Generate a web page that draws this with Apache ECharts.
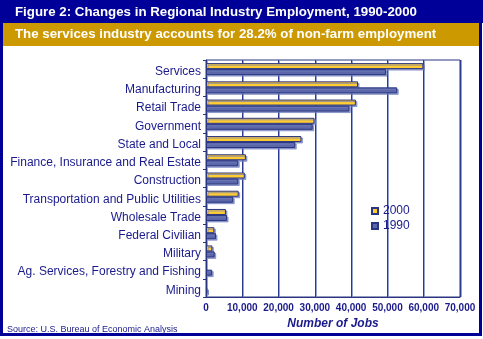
<!DOCTYPE html>
<html>
<head>
<meta charset="utf-8">
<script src="https://cdn.jsdelivr.net/npm/echarts@6/dist/echarts.min.js"></script>
<style>
html,body{margin:0;padding:0;background:#fff;}
#c{width:483px;height:339px;}
</style>
</head>
<body>
<div id="c"></div>
<script>
var categories = ["Services","Manufacturing","Retail Trade","Government","State and Local","Finance, Insurance and Real Estate","Construction","Transportation and Public Utilities","Wholesale Trade","Federal Civilian","Military","Ag. Services, Forestry and Fishing","Mining"];
var jobs2000 = [59900,41900,41300,29900,26300,11000,10700,9000,5500,2300,1750,null,null];
var jobs1990 = [49600,52700,39500,29400,24600,8900,8900,7500,5800,2750,2400,1700,400];
var xTicks = {min:0,max:70000,interval:10000};
var titleText = "Figure 2: Changes in Regional Industry Employment, 1990-2000";
var subtitleText = "The services industry accounts for 28.2% of non-farm employment";
var sourceText = "Source: U.S. Bureau of Economic Analysis";

var navy = '#1a1a8c';
var chart = echarts.init(document.getElementById('c'), null, {renderer:'canvas'});
chart.setOption({
  animation:false,
  backgroundColor:'#fff',
  graphic:[
    {type:'rect', shape:{x:0,y:0,width:483,height:23}, style:{fill:'#000099'}},
    {type:'rect', shape:{x:3,y:23,width:476,height:23}, style:{fill:'#cc9900'}},
    {type:'rect', shape:{x:0,y:0,width:3,height:336}, style:{fill:'#000099'}},
    {type:'rect', shape:{x:479,y:0,width:3,height:336}, style:{fill:'#000099'}},
    {type:'rect', shape:{x:0,y:333,width:482,height:3}, style:{fill:'#000099'}}
  ],
  title:[
    {text:titleText, left:15, top:6, padding:0, textStyle:{color:'#fff', fontSize:13.3, fontWeight:'bold', fontFamily:'Liberation Sans'}},
    {text:subtitleText, left:15, top:28, padding:0, textStyle:{color:'#fff', fontSize:13.3, fontWeight:'bold', fontFamily:'Liberation Sans'}},
    {text:sourceText, left:7, top:325, padding:0, textStyle:{color:navy, fontSize:9, fontWeight:'normal', fontFamily:'Liberation Sans'}}
  ],
  legend:{
    orient:'vertical', left:371, top:205, padding:0, itemWidth:6, itemHeight:6, itemGap:3,
    textStyle:{color:navy, fontSize:12, fontFamily:'Liberation Sans'},
    icon:'rect',
    data:['2000','1990']
  },
  grid:{left:206, right:23, top:60, bottom:42, show:true, borderColor:'#2a3580', borderWidth:1, backgroundColor:'transparent'},
  xAxis:{
    type:'value', min:xTicks.min, max:xTicks.max, interval:xTicks.interval,
    name:'Number of Jobs', nameLocation:'middle', nameGap:19,
    nameTextStyle:{color:navy, fontSize:12, fontWeight:'bold', fontStyle:'italic', fontFamily:'Liberation Sans'},
    axisLine:{show:true, lineStyle:{color:'#2a3580', width:1}},
    axisTick:{show:false},
    axisLabel:{color:navy, fontSize:10, fontWeight:'bold', fontFamily:'Liberation Sans', margin:6},
    splitLine:{show:true, lineStyle:{color:'#2a3a90', width:1, shadowColor:'rgba(120,140,200,0.8)', shadowOffsetX:1, shadowBlur:0}}
  },
  yAxis:{
    type:'category', data:categories, inverse:true,
    axisLine:{show:true, lineStyle:{color:'#2a3580', width:1}},
    axisTick:{show:true, inside:false, length:3, lineStyle:{color:'#2a3580'}},
    axisLabel:{
      margin:5,
      formatter:function(v){ return '{a|' + v + '}'; },
      rich:{a:{color:navy, fontSize:12, fontFamily:'Liberation Sans', padding:[5,0,0,0]}}
    },
    splitLine:{show:false}
  },
  series:[
    {name:'2000', type:'bar', data:jobs2000, barWidth:6, barGap:'0%', barCategoryGap:'38%',
     itemStyle:{color:'#ffcc33', borderColor:'#2a3580', borderWidth:1, shadowColor:'rgba(110,125,190,0.7)', shadowOffsetX:1.5, shadowOffsetY:1.5, shadowBlur:0}},
    {name:'1990', type:'bar', data:jobs1990, barWidth:6, barGap:'0%',
     itemStyle:{color:'#5b67a8', borderColor:'#2a3580', borderWidth:1, shadowColor:'rgba(110,125,190,0.7)', shadowOffsetX:1.5, shadowOffsetY:1.5, shadowBlur:0}}
  ]
});
</script>
</body>
</html>
